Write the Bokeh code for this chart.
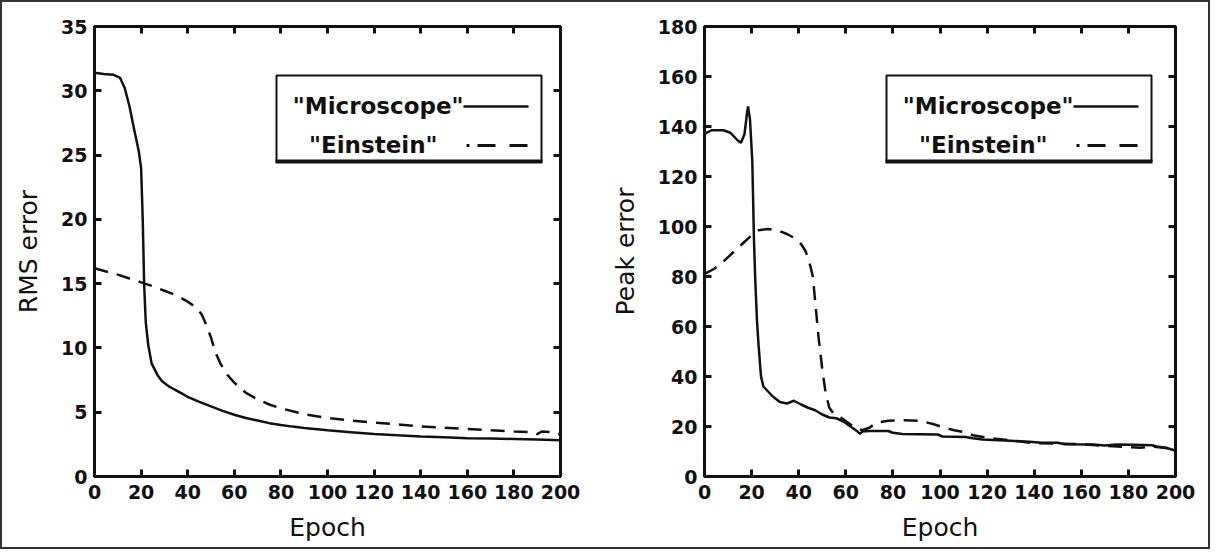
from bokeh.plotting import figure
from bokeh.layouts import row
from bokeh.models import (Range1d, SingleIntervalTicker, LinearAxis, BoxAnnotation,
                          Label, Arrow)
from bokeh.embed import file_html
from bokeh.resources import INLINE

# ---------------- data ----------------
rms_micro_x = [0, 4, 8, 11, 13, 15, 17, 19, 20, 20.7, 21.3, 22, 23, 24.5, 27, 29, 32, 35, 38,
               40, 45, 50, 55, 60, 65, 70, 75, 80, 85, 90, 100, 110, 120, 130, 140, 150,
               160, 170, 180, 190, 200]
rms_micro_y = [31.4, 31.3, 31.25, 31.0, 30.2, 28.8, 27.0, 25.3, 24.0, 20.0, 15.0, 12.0, 10.3,
               8.8, 7.9, 7.4, 7.0, 6.7, 6.4, 6.2, 5.8, 5.45, 5.1, 4.8, 4.55, 4.35, 4.15, 4.0,
               3.88, 3.78, 3.6, 3.45, 3.3, 3.2, 3.12, 3.05, 2.98, 2.95, 2.92, 2.88, 2.82]

rms_ein_x = [0, 5, 10, 15, 20, 25, 30, 35, 40, 44, 46, 48, 50, 52, 54, 57, 60, 65, 70, 75, 80,
             90, 100, 110, 120, 130, 140, 150, 160, 170, 180, 188, 190, 192, 196, 198, 200]
rms_ein_y = [16.2, 15.95, 15.7, 15.4, 15.1, 14.8, 14.45, 14.1, 13.6, 13.1, 12.6, 11.8, 10.8,
             9.6, 8.8, 7.9, 7.3, 6.5, 6.0, 5.6, 5.3, 4.85, 4.55, 4.35, 4.2, 4.05, 3.9, 3.8,
             3.7, 3.6, 3.5, 3.45, 3.3, 3.5, 3.45, 3.3, 3.3]

peak_micro_x = [0, 3, 8, 11, 14, 15.5, 17, 18, 18.5, 19.3, 20.3, 21, 21.5, 22.3, 23, 24, 25,
                26.5, 29, 32, 35, 38, 41, 44, 47, 50, 53, 56, 59, 62, 65, 66, 67, 70, 78, 80,
                84, 99, 101, 111, 114, 118, 130, 138, 143, 150, 153, 165, 170, 175, 182, 190,
                192, 196, 200]
peak_micro_y = [137, 138.5, 138.5, 137.5, 134.5, 133.5, 137, 145, 148, 143, 126, 95, 80, 62,
                52, 40, 36, 34.5, 32, 29.8, 29.2, 30.3, 28.8, 27.5, 26.5, 24.8, 23.6, 23.3,
                22, 20, 18, 17, 18, 18.2, 18.2, 17.5, 17, 16.8, 16, 15.8, 15.3, 14.8, 14.3,
                13.9, 13.5, 13.5, 12.9, 12.8, 12.4, 12.8, 12.7, 12.5, 12.0, 11.5, 10.3]

peak_ein_x = [0, 4, 8, 12, 16, 20, 23, 27, 31, 35, 38, 41, 43, 45, 46, 47, 48.5, 50, 51.5, 53,
              55, 58, 61, 64, 67, 70, 73, 78, 85, 92, 97, 102, 106, 110, 114, 120, 130, 140,
              150, 160, 170, 180, 185, 190, 195, 200]
peak_ein_y = [81, 83, 86, 89.5, 93, 96.5, 98.5, 99, 98.5, 97, 95.5, 93, 90, 84, 80, 70, 55, 43,
              33, 27.5, 25, 23.5, 21.5, 19.5, 18.5, 19.5, 21.5, 22.3, 22.5, 22.2, 21.0, 19.5,
              18.5, 17.8, 16.5, 15.5, 14.5, 13.3, 13.2, 12.9, 12.3, 11.8, 11.5, 12.0, 11.5,
              11.0]

series_names = ['"Microscope"', '"Einstein"']
x_label = "Epoch"
y_labels = ["RMS error", "Peak error"]
y_max = [35, 180]
y_step = [5, 20]
x_max = 200
x_step = 20

FONT = "DejaVu Sans"
INK = "#111111"


def make_panel(ylab, ymax, ystep, xs_m, ys_m, xs_e, ys_e, mb_left, mb_right, frame_w):
    frame_h = 450
    p = figure(width=603, height=545, output_backend="svg", toolbar_location=None,
               x_range=Range1d(0, x_max), y_range=Range1d(0, ymax),
               min_border_left=mb_left, min_border_right=mb_right,
               min_border_top=24, min_border_bottom=71)
    p.grid.visible = False
    p.outline_line_color = INK
    p.outline_line_width = 3
    p.background_fill_color = "white"
    p.border_fill_color = "white"

    for ax, step in ((p.xaxis, x_step), (p.yaxis, ystep)):
        ax.ticker = SingleIntervalTicker(interval=step, num_minor_ticks=0)
        ax.axis_line_width = 3
        ax.axis_line_color = INK
        ax.major_tick_in = 7
        ax.major_tick_out = 0
        ax.major_tick_line_width = 3
        ax.major_tick_line_color = INK
        ax.minor_tick_line_color = None
        ax.major_label_text_font = FONT
        ax.major_label_text_font_style = "bold"
        ax.major_label_text_font_size = "19px"
        ax.major_label_text_color = INK
        ax.axis_label_text_font = FONT
        ax.axis_label_text_font_style = "normal"
        ax.axis_label_text_font_size = "25px"
        ax.axis_label_text_color = INK
    p.xaxis.major_label_standoff = 8
    p.yaxis.major_label_standoff = 7
    p.xaxis.axis_label = x_label
    p.xaxis.axis_label_standoff = 11
    p.yaxis.axis_label = ylab
    p.yaxis.axis_label_standoff = 15

    for side, step in (("above", x_step), ("right", ystep)):
        ax = LinearAxis(ticker=SingleIntervalTicker(interval=step, num_minor_ticks=0),
                        axis_line_width=3, axis_line_color=INK,
                        major_tick_in=7, major_tick_out=0, major_tick_line_width=3,
                        major_tick_line_color=INK, minor_tick_line_color=None,
                        major_label_text_font_size="1px", major_label_text_color=None,
                        major_label_standoff=0)
        p.add_layout(ax, side)

    p.line(xs_m, ys_m, line_color=INK, line_width=2.5)
    p.line(xs_e, ys_e, line_color=INK, line_width=2.5, line_dash="14 9")

    # legend (positions as pixel offsets from the frame's top-left corner)
    def dx(px):
        return px / frame_w * x_max

    def dy(py):
        return ymax - py / frame_h * ymax

    box = BoxAnnotation(left=dx(182), right=dx(447), top=dy(49), bottom=dy(135),
                        fill_color="white", fill_alpha=1.0, line_color=INK, line_width=2,
                        line_alpha=1.0)
    p.add_layout(box)
    p.add_layout(Arrow(end=None, x_start=dx(181), y_start=dy(135), x_end=dx(448),
                       y_end=dy(135), line_color=INK, line_width=4))
    p.add_layout(Label(x=dx(369), y=dy(79), text=series_names[0], text_align="right",
                       text_baseline="middle", text_font=FONT, text_font_style="bold",
                       text_font_size="23px", text_color=INK))
    p.add_layout(Label(x=dx(343), y=dy(118), text=series_names[1], text_align="right",
                       text_baseline="middle", text_font=FONT, text_font_style="bold",
                       text_font_size="23px", text_color=INK))
    p.add_layout(Arrow(end=None, x_start=dx(369), y_start=dy(80), x_end=dx(434),
                       y_end=dy(80), line_color=INK, line_width=2.5))
    p.add_layout(Arrow(end=None, x_start=dx(372), y_start=dy(119), x_end=dx(434),
                       y_end=dy(119), line_color=INK, line_width=3,
                       line_dash="3 8 18 14 18 200"))
    return p


p1 = make_panel(y_labels[0], y_max[0], y_step[0], rms_micro_x, rms_micro_y,
                rms_ein_x, rms_ein_y, 92, 45, 466)
p2 = make_panel(y_labels[1], y_max[1], y_step[1], peak_micro_x, peak_micro_y,
                peak_ein_x, peak_ein_y, 99, 33, 471)

layout = row(p1, p2, styles={"border": "2px solid #333333", "background-color": "white"})

open("out.html", "w").write(file_html(layout, INLINE))
